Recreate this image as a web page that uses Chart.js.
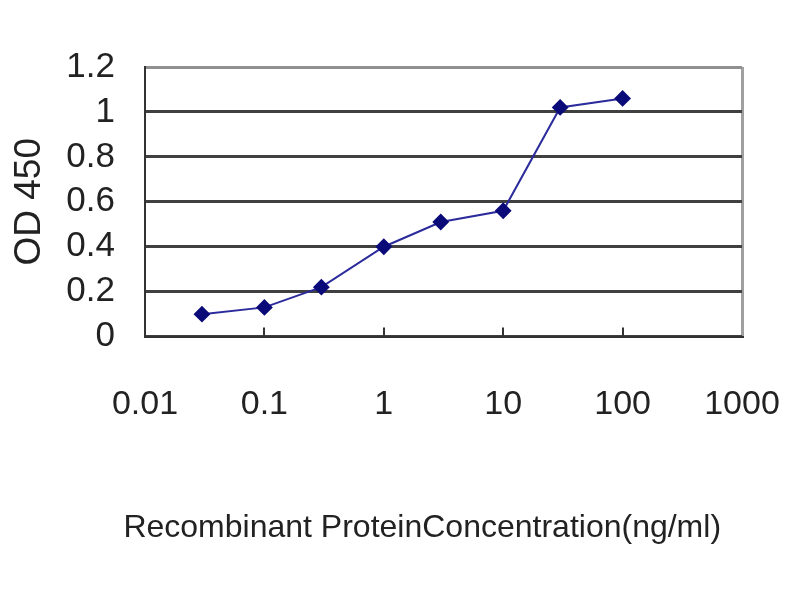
<!DOCTYPE html>
<html>
<head>
<meta charset="utf-8">
<title>OD 450 vs concentration</title>
<script src="https://cdn.jsdelivr.net/npm/chart.js@4/dist/chart.umd.min.js"></script>
<style>
    html, body { margin: 0; padding: 0; background: #fff; }
    #wrap { width: 800px; height: 600px; }
</style>
</head>
<body>
<div id="wrap"><canvas id="odChart" width="800" height="600"></canvas></div>
<script>
// ======================================================
// Data
// ======================================================
const concentrations = [0.03, 0.1, 0.3, 1, 3, 10, 30, 100];
const odValues = [0.10, 0.13, 0.22, 0.40, 0.51, 0.56, 1.02, 1.06];
const xTickValues = [0.01, 0.1, 1, 10, 100, 1000];
const yTickValues = [0, 0.2, 0.4, 0.6, 0.8, 1, 1.2];

const FONT = "'Liberation Sans', Arial, sans-serif";
const TEXT = '#222';

// short tick marks pointing up into the plot (Excel style)
const innerTicks = {
    id: 'innerTicks',
    afterDatasetsDraw(chart) {
        const x = chart.scales.x;
        const ctx = chart.ctx;
        ctx.save();
        ctx.strokeStyle = '#333';
        ctx.lineWidth = 2;
        xTickValues.slice(1, -1).forEach(function (v) {
            const px = Math.round(x.getPixelForValue(v));
            ctx.beginPath();
            ctx.moveTo(px, x.top);
            ctx.lineTo(px, x.top - 9);
            ctx.stroke();
        });
        ctx.restore();
    }
};

new Chart(document.getElementById('odChart'), {
    type: 'line',
    data: {
        datasets: [{
            label: 'OD 450',
            data: concentrations.map(function (c, i) { return { x: c, y: odValues[i] }; }),
            borderColor: '#2b2b9c',
            borderWidth: 2,
            pointStyle: 'rectRot',
            pointRadius: 7,
            pointBackgroundColor: '#0a0a78',
            pointBorderColor: '#0a0a78',
            tension: 0
        }]
    },
    options: {
        responsive: false,
        animation: false,
        devicePixelRatio: 1,
        layout: { padding: { top: 67, right: 0, bottom: 0, left: 0 } },
        plugins: {
            legend: { display: false },
            tooltip: { enabled: false },
            // x-axis caption, drawn as the chart title so it can use the full width
            title: {
                display: true,
                position: 'bottom',
                // leading spaces nudge the centred caption a little to the right
                text: '     Recombinant ProteinConcentration(ng/ml)',
                color: TEXT,
                font: { family: FONT, size: 32, weight: 'normal' },
                padding: { top: 0, bottom: 53 }
            }
        },
        scales: {
            x: {
                type: 'logarithmic',
                min: 0.01,
                max: 1000,
                afterBuildTicks: function (scale) {
                    scale.ticks = xTickValues.map(function (v) { return { value: v }; });
                },
                afterFit: function (scale) {
                    scale.height = 172;
                    scale.paddingRight = 58;
                },
                border: { color: '#333', width: 2 },
                grid: {
                    drawTicks: false,
                    lineWidth: 3,
                    color: function (c) { return c.tick && c.tick.value === 1000 ? '#a0a0a0' : 'rgba(0,0,0,0)'; }
                },
                ticks: {
                    padding: 48,
                    maxRotation: 0,
                    autoSkip: false,
                    color: TEXT,
                    font: { family: FONT, size: 34 },
                    callback: function (v) { return String(v); }
                }
            },
            y: {
                min: 0,
                max: 1.2,
                afterBuildTicks: function (scale) {
                    scale.ticks = yTickValues.map(function (v) { return { value: v }; });
                },
                afterFit: function (scale) { scale.width = 145; },
                border: { color: '#333', width: 2 },
                grid: {
                    drawTicks: false,
                    lineWidth: 3,
                    color: function (c) { return c.tick && c.tick.value === 1.2 ? '#909090' : '#404040'; }
                },
                ticks: {
                    padding: 30,
                    autoSkip: false,
                    color: TEXT,
                    font: { family: FONT, size: 35 },
                    callback: function (v) { return String(v); }
                },
                title: {
                    display: true,
                    text: 'OD 450',
                    color: TEXT,
                    font: { family: FONT, size: 37 },
                    padding: { top: 8, bottom: 0 }
                }
            }
        }
    },
    plugins: [innerTicks]
});
</script>
</body>
</html>
